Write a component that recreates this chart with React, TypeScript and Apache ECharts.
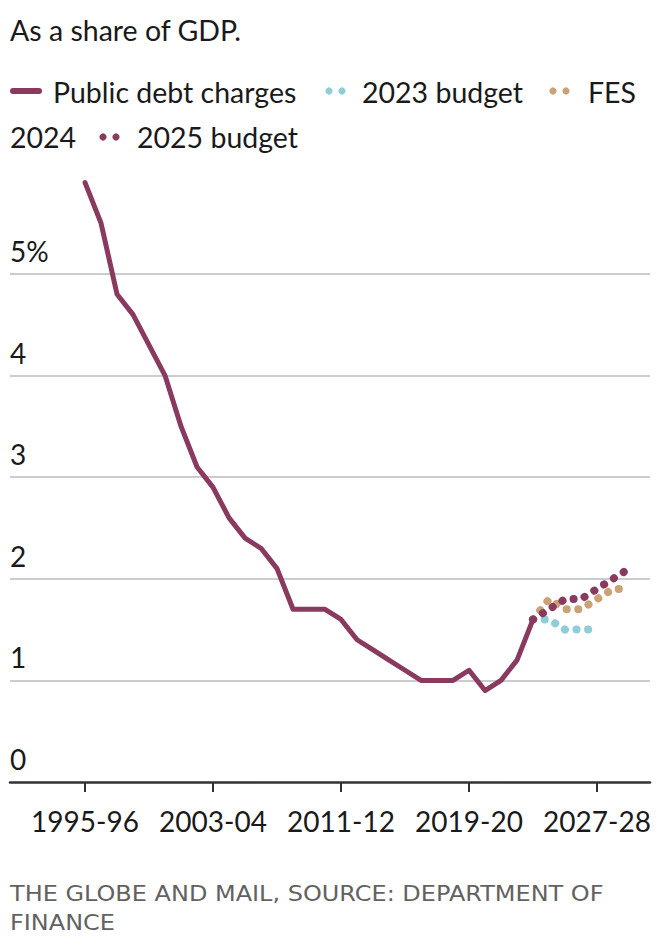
import React, { useEffect, useRef } from "react";
import * as echarts from "echarts";

// ---- Data ----
const historyYears = [
  "1995-96", "1996-97", "1997-98", "1998-99", "1999-00", "2000-01", "2001-02",
  "2002-03", "2003-04", "2004-05", "2005-06", "2006-07", "2007-08", "2008-09",
  "2009-10", "2010-11", "2011-12", "2012-13", "2013-14", "2014-15", "2015-16",
  "2016-17", "2017-18", "2018-19", "2019-20", "2020-21", "2021-22", "2022-23",
  "2023-24",
];
const publicDebtCharges = [
  5.9, 5.5, 4.8, 4.6, 4.3, 4.0, 3.5, 3.1, 2.9, 2.6, 2.4, 2.3, 2.1, 1.7, 1.7,
  1.7, 1.6, 1.4, 1.3, 1.2, 1.1, 1.0, 1.0, 1.0, 1.1, 0.9, 1.0, 1.2, 1.6,
];

const budget2023Years = ["2023-24", "2024-25", "2025-26", "2026-27", "2027-28"];
const budget2023 = [1.6, 1.6, 1.5, 1.5, 1.5];

const fes2024Years = ["2023-24", "2024-25", "2025-26", "2026-27", "2027-28", "2028-29", "2029-30"];
const fes2024 = [1.6, 1.8, 1.7, 1.7, 1.8, 1.9, 1.9];

const budget2025Years = ["2023-24", "2024-25", "2025-26", "2026-27", "2027-28", "2028-29", "2029-30"];
const budget2025 = [1.6, 1.7, 1.8, 1.8, 1.9, 2.0, 2.1];

const xTickLabels = ["1995-96", "2003-04", "2011-12", "2019-20", "2027-28"];
const yTickValues = [0, 1, 2, 3, 4, 5];

// ---- Helpers ----
const startYear = (label: string) => parseInt(label.slice(0, 4), 10);
const pairs = (years: string[], values: number[]) =>
  years.map((y, i) => [startYear(y), values[i]]);
const tickValues = xTickLabels.map(startYear);
const labelFor = (v: number) => {
  const idx = tickValues.indexOf(Math.round(v));
  return idx >= 0 ? xTickLabels[idx] : "";
};

const MAROON = "#8a3a5e";
const BLUE = "#8fcdd9";
const TAN = "#c9a375";
const TEXT = "#1a1a1a";
const FONT = "Lato, 'Noto Sans', sans-serif";
const FOOT_FONT = "'DejaVu Sans', 'Open Sans', sans-serif";

export default function App() {
  const ref = useRef<HTMLDivElement>(null);

  useEffect(() => {
    if (!ref.current) return;
    const chart = echarts.init(ref.current, undefined, { renderer: "svg" });

    const dotted = (name: string, color: string, data: number[][], z: number) => ({
      name,
      type: "line",
      data,
      symbol: "none",
      z,
      lineStyle: { color, width: 8, type: [0.1, 11.5], cap: "round" },
      emphasis: { disabled: true },
    });

    const legendText = (text: string, x: number, y: number) => ({
      type: "text",
      x,
      y,
      style: { text, fontSize: 28.5, fontFamily: FONT, fill: TEXT, verticalAlign: "middle" },
    });
    const legendDots = (x: number, y: number, color: string) => [
      { type: "circle", shape: { cx: x, cy: y, r: 3.6 }, style: { fill: color } },
      { type: "circle", shape: { cx: x + 13, cy: y, r: 3.6 }, style: { fill: color } },
    ];
    const footText = (text: string, y: number) => ({
      type: "text",
      x: 10,
      y,
      scaleX: 1.09,
      style: { text, fontSize: 22, fontFamily: FOOT_FONT, fill: "#626262", verticalAlign: "middle" },
    });

    chart.setOption({
      animation: false,
      grid: { left: 10, right: 10, top: 172.4, bottom: 166, containLabel: false },
      xAxis: {
        type: "value",
        min: 1990.31,
        max: 2030.31,
        axisLine: { show: true, lineStyle: { color: "#333", width: 2.5 } },
        axisTick: {
          show: true,
          customValues: tickValues,
          length: 10,
          lineStyle: { color: "#333", width: 2 },
        },
        axisLabel: {
          customValues: tickValues,
          formatter: (v: number) => labelFor(v),
          fontSize: 28,
          fontFamily: FONT,
          color: TEXT,
          margin: 25,
        },
        splitLine: { show: false },
      },
      yAxis: {
        type: "value",
        min: 0,
        max: 6,
        interval: 1,
        axisLine: { show: false },
        axisTick: { show: false },
        axisLabel: {
          inside: true,
          align: "left",
          verticalAlign: "bottom",
          margin: 0,
          padding: [0, 0, 9, 0],
          fontSize: 28,
          fontFamily: FONT,
          color: TEXT,
          showMaxLabel: false,
          formatter: (v: number) => (yTickValues.includes(v) ? (v === 5 ? "5%" : String(v)) : ""),
        },
        splitLine: {
          show: true,
          showMaxLine: false,
          showMinLine: false,
          lineStyle: { color: "#cccccc", width: 2 },
        },
      },
      series: [
        dotted("2023 budget", BLUE, pairs(budget2023Years, budget2023), 2),
        dotted("FES 2024", TAN, pairs(fes2024Years, fes2024), 3),
        dotted("2025 budget", MAROON, pairs(budget2025Years, budget2025), 4),
        {
          name: "Public debt charges",
          type: "line",
          data: pairs(historyYears, publicDebtCharges),
          symbol: "none",
          z: 5,
          lineStyle: { color: MAROON, width: 5, cap: "round", join: "round" },
          emphasis: { disabled: true },
        },
      ],
      graphic: [
        {
          type: "text",
          x: 10,
          y: 30,
          style: {
            text: "As a share of GDP.",
            fontSize: 28.5,
            fontFamily: FONT,
            fill: TEXT,
            verticalAlign: "middle",
          },
        },
        {
          type: "line",
          shape: { x1: 13, y1: 91, x2: 39, y2: 91 },
          style: { stroke: MAROON, lineWidth: 6, lineCap: "round" },
        },
        legendText("Public debt charges", 53, 92),
        ...legendDots(329, 91, BLUE),
        legendText("2023 budget", 362, 92),
        ...legendDots(553, 91, TAN),
        legendText("FES", 588, 92),
        legendText("2024", 10, 137),
        ...legendDots(103, 137, MAROON),
        legendText("2025 budget", 137, 137),
        footText("THE GLOBE AND MAIL, SOURCE: DEPARTMENT OF", 893),
        footText("FINANCE", 922),
      ],
    });

    return () => chart.dispose();
  }, []);

  return (
    <div
      ref={ref}
      style={{ position: "absolute", left: 0, top: 0, width: 660, height: 948, background: "#fff" }}
    />
  );
}
